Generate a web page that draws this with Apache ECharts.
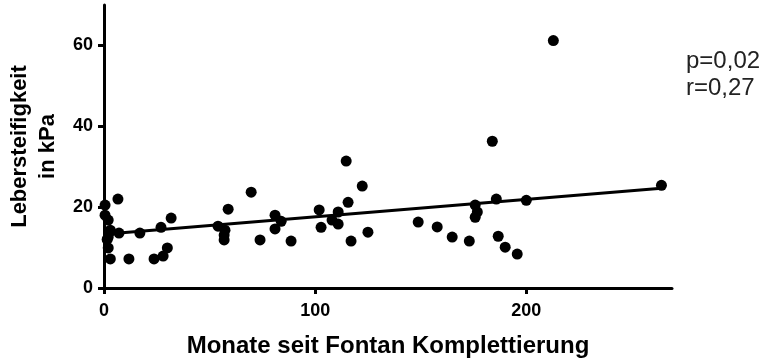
<!DOCTYPE html>
<html><head><meta charset="utf-8">
<script src="https://cdn.jsdelivr.net/npm/echarts@6/dist/echarts.min.js"></script>
<style>html,body{margin:0;padding:0;background:#fff}#c{width:772px;height:360px}</style>
</head><body><div id="c"></div>
<script>
const monate = [0.5,0.5,2,3,2,2,3,6.6,7.1,11.8,17,23.7,27,28,30,31.8,54,57.3,56.9,56.9,58.8,69.7,73.9,81,81,83.9,88.6,101.9,102.8,108,110.9,110.9,114.7,115.6,117,122.3,125,148.8,157.8,164.9,173,175.8,176.8,175.8,183.9,185.8,186.7,190,195.7,200,212.8,264,3,1.5];
const kpa =   [20.5,18,16.8,14.3,12.6,9.9,7.2,22,13.6,7.2,13.6,7.2,15,7.9,9.9,17.3,15.3,14.3,13.1,11.9,19.5,23.7,11.9,18,14.6,16.5,11.6,19.3,15,16.8,18.8,15.8,31.4,21.2,11.6,25.2,13.8,16.3,15.1,12.6,11.6,20.5,18.8,17.5,36.3,22,12.8,10.1,8.4,21.7,61.2,25.4,14,12];
const fitX = [0, 264];
const fitY = [13.3, 24.7];
const xTicks = [0, 100, 200];
const yTicks = [0, 20, 40, 60];
const statsText = ['p=0,02', 'r=0,27'];

const font = '"Liberation Sans", Arial, sans-serif';
const chart = echarts.init(document.getElementById('c'));
chart.setOption({
  animation: false,
  grid: {left: 104, right: 100, top: 5, bottom: 72, outerBoundsMode: 'none', containLabel: false},
  xAxis: {
    type: 'value', min: 0, max: 269,
    name: 'Monate seit Fontan Komplettierung', nameLocation: 'middle', nameGap: 46,
    nameTextStyle: {fontFamily: font, fontWeight: 'bold', fontSize: 24, color: '#000'},
    axisLine: {show: true, onZero: false, lineStyle: {color: '#000', width: 3}},
    axisTick: {show: true, length: 6, lineStyle: {color: '#000', width: 3}, customValues: xTicks},
    axisLabel: {fontFamily: font, fontWeight: 'bold', fontSize: 18, color: '#000', margin: 14, customValues: xTicks},
    splitLine: {show: false}
  },
  yAxis: {
    type: 'value', min: 0, max: 70,
    name: 'Lebersteifigkeit\nin kPa', nameLocation: 'middle', nameGap: 42, nameRotate: 90,
    nameTextStyle: {fontFamily: font, fontWeight: 'bold', fontSize: 22, color: '#000', lineHeight: 28},
    axisLine: {show: true, onZero: false, lineStyle: {color: '#000', width: 3}},
    axisTick: {show: true, length: 6, lineStyle: {color: '#000', width: 3}, customValues: yTicks},
    axisLabel: {fontFamily: font, fontWeight: 'bold', fontSize: 18, color: '#000', margin: 11, customValues: yTicks},
    splitLine: {show: false}
  },
  series: [
    {type: 'scatter', data: monate.map((m, i) => [m, kpa[i]]), symbolSize: 11,
     itemStyle: {color: '#000', opacity: 1}, z: 3},
    {type: 'line', data: fitX.map((x, i) => [x, fitY[i]]), symbol: 'none',
     lineStyle: {color: '#000', width: 3}, z: 2}
  ],
  graphic: [{
    type: 'text', left: 686, top: 48,
    style: {text: statsText.join('\n'), fontFamily: font, fontSize: 24, lineHeight: 27, fill: '#222'}
  }]
});
</script></body></html>
